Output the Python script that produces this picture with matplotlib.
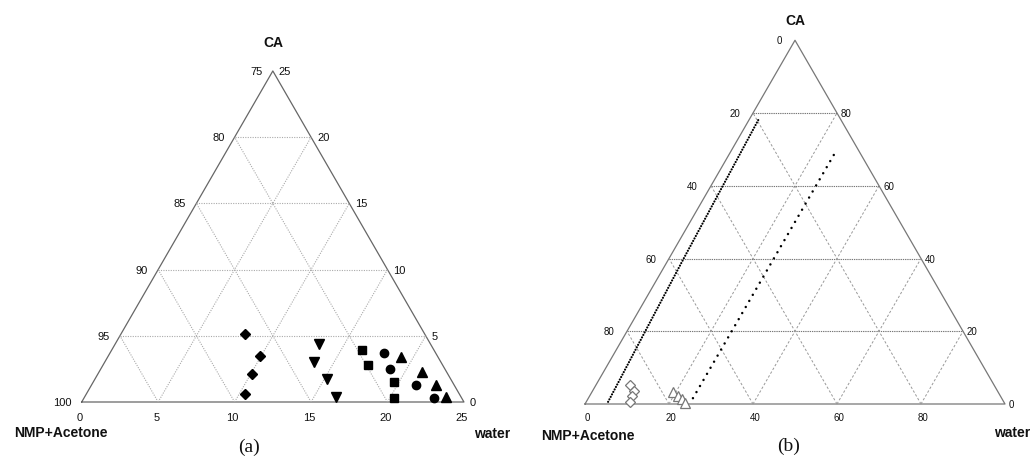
import numpy as np
import matplotlib.pyplot as plt

plt.rcParams['font.family'] = ['Liberation Sans', 'DejaVu Sans']

# membrane casting compositions (water %, CA %), NMP+Acetone is the remainder
diamond_water = [8.1, 9.9, 10.1, 10.4]
diamond_ca = [5.1, 3.5, 2.1, 0.6]
down_water = [13.3, 13.7, 15.2, 16.4]
down_ca = [4.4, 3.0, 1.7, 0.4]
square_water = [16.4, 17.3, 19.7, 20.3]
square_ca = [3.9, 2.8, 1.5, 0.3]
circle_water = [17.9, 18.9, 21.2, 22.9]
circle_ca = [3.7, 2.5, 1.3, 0.3]
up_water = [19.2, 21.1, 22.5, 23.6]
up_ca = [3.4, 2.3, 1.3, 0.4]

# binodal and second boundary in the full diagram
binodal_water = [5.2, 4.35, 3.5, 2.2]
binodal_ca = [0.6, 19.9, 39.9, 78.4]
boundary_water = [24.9, 25.0]
boundary_ca = [1.6, 68.7]

ticks_a = [0, 5, 10, 15, 20, 25]
ticks_b = [0, 20, 40, 60, 80]

H = np.sqrt(3) / 2
W, HT = 1032, 460


def tern(water, ca):
    water = np.asarray(water, float)
    ca = np.asarray(ca, float)
    return water + ca / 2, ca * H


def frame(ax, side, levels, edge_kw, hgrid_kw, dgrid_kw):
    x, y = tern([0, side, 0, 0], [0, 0, side, 0])
    ax.plot(x, y, **edge_kw)
    for v in levels:
        # constant CA
        gx, gy = tern([0, side - v], [v, v])
        ax.plot(gx, gy, **hgrid_kw)
        # constant water
        gx, gy = tern([v, v], [0, side - v])
        ax.plot(gx, gy, **dgrid_kw)
        # constant solvent
        gx, gy = tern([v, 0], [0, v])
        ax.plot(gx, gy, **dgrid_kw)


def label(ax, xy, text, dx, dy, ha, size):
    ax.annotate(text, xy=xy, xytext=(dx, dy), textcoords='offset points',
                ha=ha, va='center', fontsize=size, color='#111111')


fig = plt.figure(figsize=(W / 100, HT / 100), dpi=100)

# ---- (a) zoomed corner, 0-25 % ----
ax_a = fig.add_axes([0, 0, 0.5, 1])
sc = 15.29
ax_a.set_xlim(-81.7 / sc, (516 - 81.7) / sc)
ax_a.set_ylim((403 - 460) / sc, 403 / sc)
frame(ax_a, 25, [5, 10, 15, 20],
      dict(color='#666666', lw=0.9),
      dict(color='#aaaaaa', lw=0.8, ls=(0, (1, 1.2))),
      dict(color='#aaaaaa', lw=0.8, ls=(0, (1, 1.2))))

mk = dict(color='black', ls='none', zorder=5)
ax_a.plot(*tern(diamond_water, diamond_ca), marker='D', ms=5, **mk)
ax_a.plot(*tern(down_water, down_ca), marker='v', ms=7, **mk)
ax_a.plot(*tern(square_water, square_ca), marker='s', ms=5.5, **mk)
ax_a.plot(*tern(circle_water, circle_ca), marker='o', ms=6, **mk)
ax_a.plot(*tern(up_water, up_ca), marker='^', ms=7, **mk)

for t in ticks_a:
    label(ax_a, tern(0, t), str(100 - t), -7.2, 0, 'right', 8)
    label(ax_a, tern(25 - t, t), str(t), 4.3, 0, 'left', 8)
    label(ax_a, tern(t, 0), str(t), -1.4, -11, 'center', 8)
ax_a.axis('off')

# ---- (b) full diagram ----
ax_b = fig.add_axes([0.5, 0, 0.5, 1])
sc = 4.2
ax_b.set_xlim((516 - 585) / sc, (1032 - 585) / sc)
ax_b.set_ylim((405 - 460) / sc, 405 / sc)
frame(ax_b, 100, [20, 40, 60, 80],
      dict(color='#777777', lw=0.9),
      dict(color='#777777', lw=0.8, ls=(0, (1.2, 0.8))),
      dict(color='#999999', lw=0.7, ls=(0, (2.5, 2))))

ax_b.plot(*tern(binodal_water, binodal_ca), color='black', lw=1.6,
          ls=(0, (0.01, 1.25)), dash_capstyle='round', zorder=4)
ax_b.plot(*tern(boundary_water, boundary_ca), color='black', lw=1.8,
          ls=(0, (0.01, 2.8)), dash_capstyle='round', zorder=4)

open_mk = dict(mfc='white', mec='#777777', mew=0.9, ls='none', zorder=5)
ax_b.plot(*tern(diamond_water, diamond_ca), marker='D', ms=5.5, **open_mk)
ax_b.plot(*tern(up_water, up_ca), marker='^', ms=7.5, **open_mk)

for t in ticks_b:
    label(ax_b, tern(0, 100 - t), str(t), -9.4, 0, 'right', 7)
    label(ax_b, tern(100 - t, t), str(t), 2.9, 0, 'left', 7)
    label(ax_b, tern(t, 0), str(t), 1.4, -9.4, 'center', 7)
ax_b.axis('off')

# axis titles and panel letters
bold = dict(fontsize=10, fontweight='bold', ha='center', va='center',
            color='#111111')
fig.text(273 / W, 1 - 43 / HT, 'CA', **bold)
fig.text(61 / W, 1 - 433 / HT, 'NMP+Acetone', **bold)
fig.text(492 / W, 1 - 434 / HT, 'water', **bold)
fig.text(795 / W, 1 - 21 / HT, 'CA', **bold)
fig.text(588 / W, 1 - 436 / HT, 'NMP+Acetone', **bold)
fig.text(1012 / W, 1 - 433 / HT, 'water', **bold)

serif = dict(fontsize=14, family=['Liberation Serif', 'DejaVu Serif'],
             ha='center', va='center', color='#111111')
fig.text(249 / W, 1 - 447 / HT, '(a)', **serif)
fig.text(789 / W, 1 - 446 / HT, '(b)', **serif)

fig.savefig('out.png', dpi=100, facecolor='white')
